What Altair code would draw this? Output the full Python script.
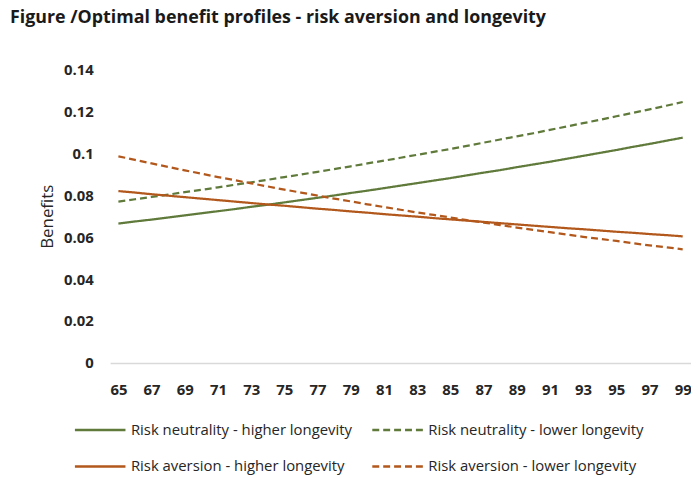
import altair as alt
import pandas as pd

ages = list(range(65, 100))

rn_high = [0.0665, 0.0675, 0.0684, 0.0694, 0.0704, 0.0714, 0.0724, 0.0734, 0.0745, 0.0755,
           0.0766, 0.0777, 0.0788, 0.0799, 0.0811, 0.0822, 0.0834, 0.0846, 0.0858, 0.0870,
           0.0882, 0.0895, 0.0908, 0.0920, 0.0934, 0.0947, 0.0960, 0.0974, 0.0988, 0.1002,
           0.1016, 0.1031, 0.1045, 0.1060, 0.1075]
rn_low = [0.0770, 0.0781, 0.0792, 0.0803, 0.0815, 0.0826, 0.0838, 0.0850, 0.0862, 0.0874,
          0.0887, 0.0899, 0.0912, 0.0925, 0.0938, 0.0952, 0.0965, 0.0979, 0.0993, 0.1007,
          0.1021, 0.1036, 0.1051, 0.1066, 0.1081, 0.1096, 0.1112, 0.1128, 0.1144, 0.1160,
          0.1177, 0.1193, 0.1210, 0.1227, 0.1245]
ra_high = [0.0820, 0.0813, 0.0805, 0.0798, 0.0791, 0.0784, 0.0777, 0.0770, 0.0763, 0.0756,
           0.0750, 0.0743, 0.0736, 0.0730, 0.0723, 0.0717, 0.0710, 0.0704, 0.0698, 0.0691,
           0.0685, 0.0679, 0.0673, 0.0667, 0.0661, 0.0655, 0.0649, 0.0643, 0.0638, 0.0632,
           0.0626, 0.0621, 0.0615, 0.0610, 0.0604]
ra_low = [0.0986, 0.0969, 0.0952, 0.0935, 0.0919, 0.0903, 0.0887, 0.0872, 0.0857, 0.0842,
          0.0827, 0.0813, 0.0798, 0.0784, 0.0771, 0.0757, 0.0744, 0.0731, 0.0718, 0.0706,
          0.0694, 0.0681, 0.0670, 0.0658, 0.0646, 0.0635, 0.0624, 0.0613, 0.0602, 0.0592,
          0.0582, 0.0571, 0.0561, 0.0552, 0.0542]

series_names = ["Risk neutrality - higher longevity", "Risk neutrality - lower longevity",
                "Risk aversion - higher longevity", "Risk aversion - lower longevity"]
series_values = [rn_high, rn_low, ra_high, ra_low]
colors = ["#5f7a3a", "#5f7a3a", "#b3581c", "#b3581c"]
dashes = [[1, 0], [7, 4], [1, 0], [7, 4]]
x_ticks = list(range(65, 100, 2))
y_ticks = [0, 0.02, 0.04, 0.06, 0.08, 0.1, 0.12, 0.14]

rows = []
for name, vals in zip(series_names, series_values):
    for a, v in zip(ages, vals):
        rows.append({"age": a, "benefit": v, "series": name})
df = pd.DataFrame(rows)

FONT = "Open Sans"

legend_kw = dict(title=None, orient="none", direction="horizontal",
                 legendX=-28.5, legendY=345, columns=2, columnPadding=15, rowPadding=10,
                 symbolType="M-1.5,0H1.5", symbolSize=1156, symbolStrokeWidth=2.5,
                 labelOffset=12.5, labelFont=FONT, labelFontSize=15,
                 labelColor="#262626", labelLimit=400)

chart = alt.Chart(df).mark_line(strokeWidth=2.25).encode(
    x=alt.X("age:Q", scale=alt.Scale(domain=[64.5, 99.5], nice=False, zero=False),
            axis=alt.Axis(values=x_ticks, format="d", title=None, ticks=False,
                          domain=True, domainColor="#d9d9d9", domainWidth=1.5,
                          grid=False, labelPadding=20,
                          labelFont=FONT, labelFontSize=15, labelFontWeight="bold",
                          labelColor="#262626")),
    y=alt.Y("benefit:Q", scale=alt.Scale(domain=[0, 0.14], nice=False),
            axis=alt.Axis(values=y_ticks, format="~g", title="Benefits", ticks=False,
                          domain=False, grid=False, labelPadding=17,
                          labelFont=FONT, labelFontSize=15, labelFontWeight="bold",
                          labelColor="#262626", titleFont=FONT, titleFontSize=17,
                          titleFontWeight="normal", titleColor="#262626", titlePadding=7)),
    color=alt.Color("series:N", scale=alt.Scale(domain=series_names, range=colors),
                    legend=alt.Legend(**legend_kw)),
    strokeDash=alt.StrokeDash("series:N", scale=alt.Scale(domain=series_names, range=dashes),
                              legend=alt.Legend(**legend_kw)),
).properties(
    width=586, height=296,
    padding={"left": 103, "top": 60, "right": 0, "bottom": 114},
    autosize=alt.AutoSizeParams(type="none"),
    title=alt.TitleParams("Figure /Optimal benefit profiles - risk aversion and longevity",
                          anchor="start", frame="group", dx=-101, dy=-32,
                          font=FONT, fontSize=18, fontWeight="bold", color="#1a1a1a"),
).configure_view(stroke=None)

chart.save("out.html", embed_options={"renderer": "svg", "actions": False})
